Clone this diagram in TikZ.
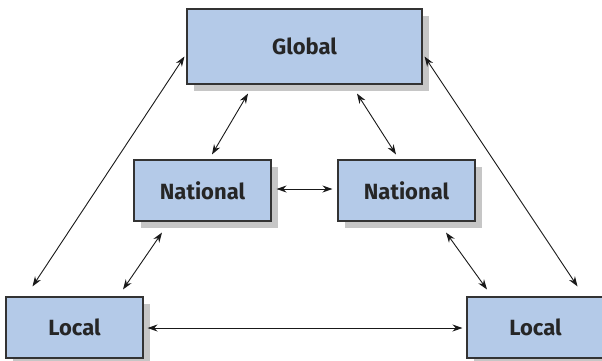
\documentclass[tikz,border=0pt]{standalone}
\usepackage{fontspec}
\setmainfont{Fira Sans}
\usetikzlibrary{arrows.meta,calc,shadows}
\definecolor{boxfill}{HTML}{B4CAE8}
\definecolor{boxline}{HTML}{333333}
\definecolor{shade}{HTML}{C6C6C6}
\tikzset{
  lvl/.style={draw=boxline, line width=1.1pt, fill=boxfill, inner sep=0pt,
    font=\fontsize{22}{26}\selectfont\bfseries, text=black!85,
    general shadow={shadow xshift=7pt, shadow yshift=-7pt, fill=shade}},
  link/.style={line width=0.9pt, draw=black!90, {Stealth[length=10pt,width=7pt]}-{Stealth[length=10pt,width=7pt]}}
}
\begin{document}
\begin{tikzpicture}[x=1pt,y=-1pt]
\useasboundingbox (0,0) rectangle (602,360);
\node[lvl, minimum width=235pt, minimum height=75pt] (G) at (304.5,46.5) {Global};
\node[lvl, minimum width=137pt, minimum height=61pt] (NL) at (202.5,190.5) {National};
\node[lvl, minimum width=137pt, minimum height=61pt] (NR) at (406.5,190.5) {National};
\node[lvl, minimum width=137pt, minimum height=61pt] (LL) at (74.5,327.5) {Local};
\node[lvl, minimum width=137pt, minimum height=61pt] (LR) at (535.5,327.5) {Local};
\draw[link] ($(G.west)+(-2,10)$) -- ($(LL.north west)+(27,-10)$);
\draw[link] ($(G.east)+(2,10)$) -- ($(LR.north east)+(-27,-10)$);
\draw[link] ($(G.south)+(-56.5,9)$) -- ($(NL.north)+(9.5,-5)$);
\draw[link] ($(G.south)+(52.5,9)$) -- ($(NR.north)+(-10.5,-5)$);
\draw[link] ($(NL.east)+(5,-1.5)$) -- ($(NR.west)+(-5,-1.5)$);
\draw[link] ($(NL.south)+(-40.5,11)$) -- ($(LL.north)+(48.5,-7)$);
\draw[link] ($(NR.south)+(39.5,11)$) -- ($(LR.north)+(-48.5,-7)$);
\draw[link] ($(LL.east)+(4,0.5)$) -- ($(LR.west)+(-4,0.5)$);
\end{tikzpicture}
\end{document}
